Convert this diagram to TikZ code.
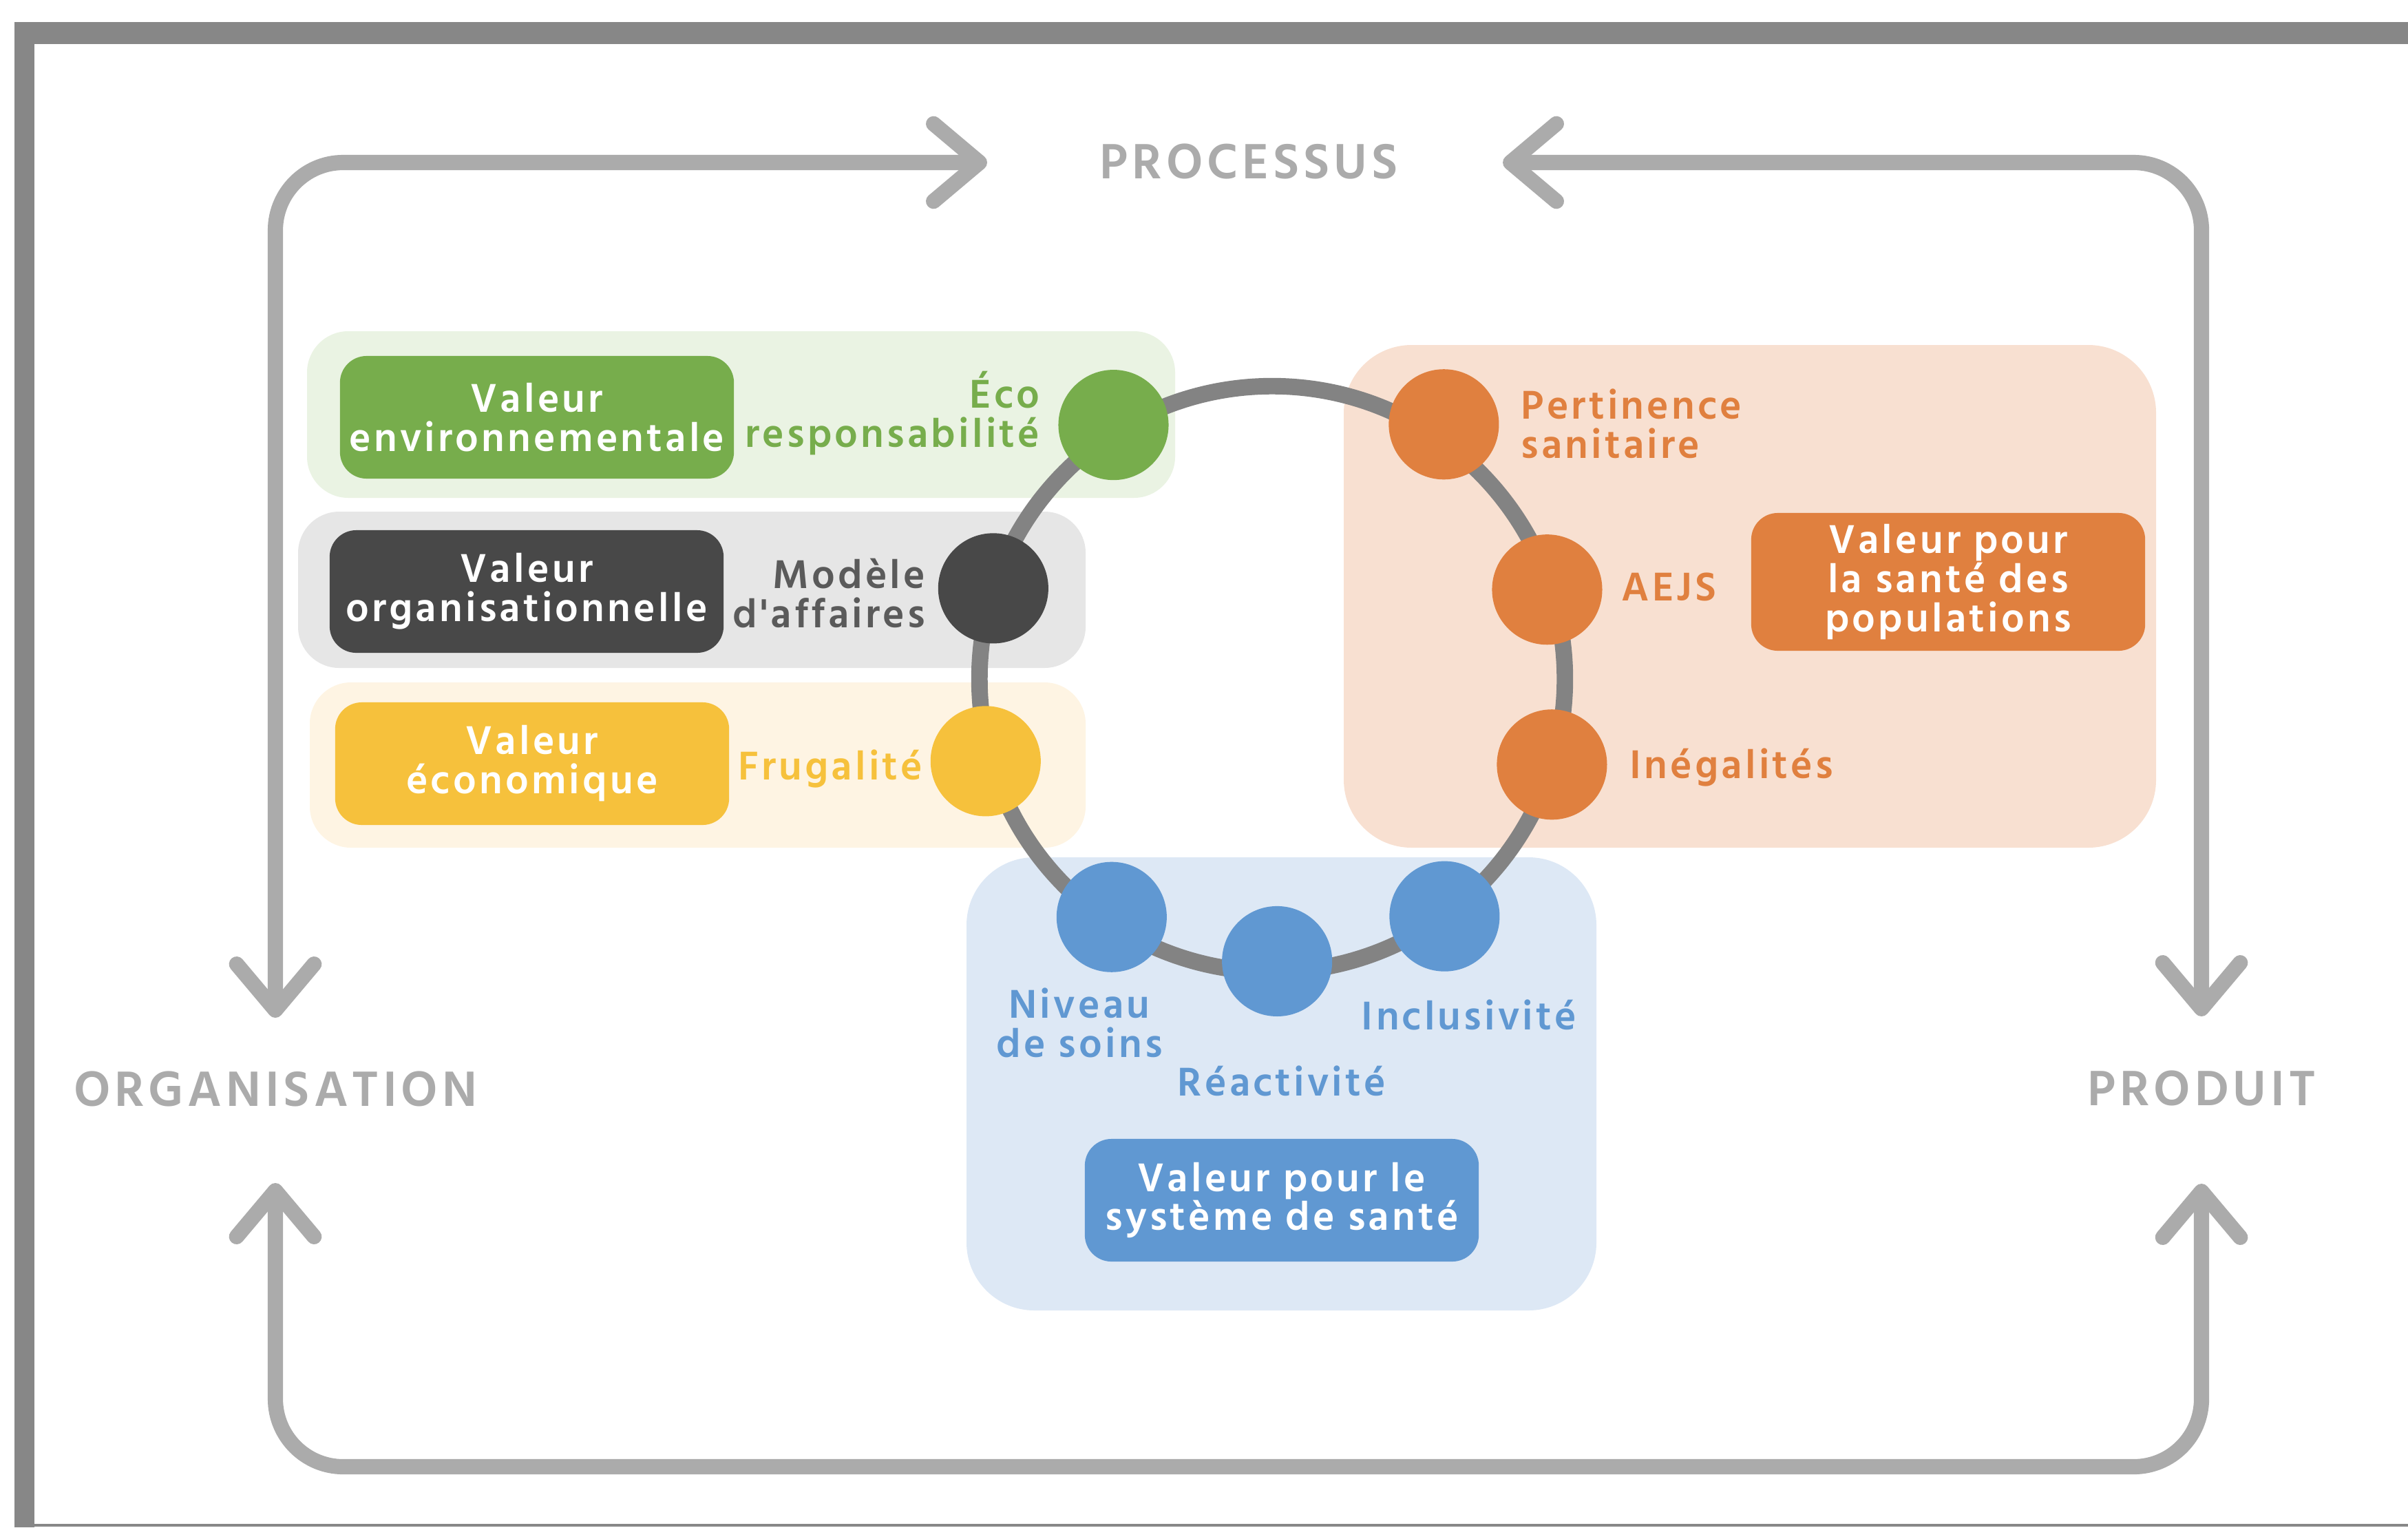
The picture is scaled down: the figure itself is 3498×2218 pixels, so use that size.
\documentclass[tikz,border=0pt]{standalone}
\usepackage{fontspec}
\setmainfont{Hind Madurai}[BoldFont={* SemiBold}, LetterSpace=7, Ligatures=TeXOff]
\usetikzlibrary{arrows.meta, positioning, calc}

\definecolor{framegrey}{HTML}{878787}
\definecolor{loopgrey}{HTML}{ABABAB}
\definecolor{ringgrey}{HTML}{838383}
\definecolor{envgreen}{HTML}{77AD4C}
\definecolor{envlight}{HTML}{EAF3E3}
\definecolor{orgdark}{HTML}{484848}
\definecolor{orglight}{HTML}{E6E6E6}
\definecolor{ecoyellow}{HTML}{F6C13C}
\definecolor{ecolight}{HTML}{FEF4E3}
\definecolor{poporange}{HTML}{E0803F}
\definecolor{poplight}{HTML}{F8E0D1}
\definecolor{sysblue}{HTML}{6098D2}
\definecolor{syslight}{HTML}{DDE8F5}

\tikzset{
  valuebox/.style={rounded corners=11pt, text=white, inner sep=0pt,
    font=\fontsize{17}{16.2}\selectfont\bfseries, align=center,
    minimum width=5.72cm, minimum height=1.78cm},
  critlabel/.style={inner sep=0pt, font=\fontsize{17}{16.2}\selectfont\bfseries},
  ringdot/.style={circle, minimum size=1.6cm, inner sep=0pt},
  axislabel/.style={text=loopgrey, inner sep=0pt,
    font=\fontsize{21}{21}\selectfont\bfseries\addfontfeatures{LetterSpace=8}},
  looparrow/.style={draw=loopgrey, line width=6.3pt, rounded corners=28pt,
    {Straight Barb[length=19pt, width=32pt, round]}-{Straight Barb[length=19pt, width=32pt, round]}}
}

\begin{document}
\begin{tikzpicture}[x=0.01cm, y=-0.01cm]
\useasboundingbox (0,0) rectangle (3498,2218);

% frame
\fill[framegrey] (21,32) rectangle (3498,64);
\fill[framegrey] (21,32) rectangle (50,2218);
\draw[framegrey, line width=1pt] (21,2215) -- (3498,2215);

% outer loop
\node[axislabel] (proc) at (1814,234) {PROCESSUS};
\node[axislabel] (orga) at (400,1581) {ORGANISATION};
\node[axislabel] (prod) at (3198,1580) {PRODUIT};
\coordinate (procW) at (1434,236);
\coordinate (procE) at (2183,236);
\coordinate (orgN) at (400,1478);
\coordinate (orgS) at (400,1718);
\coordinate (prodN) at (3198,1476);
\coordinate (prodS) at (3198,1719);
\coordinate (loopbase) at (1800,2130);
\draw[looparrow] (orgN) |- (procW);
\draw[looparrow] (procE) -| (prodN);
\draw[looparrow] (orgS) |- (loopbase) -| (prodS);

% background panels
\fill[envlight, rounded corners=17pt] (446,481) rectangle (1707,723);
\fill[orglight, rounded corners=17pt] (433,743) rectangle (1577,970);
\fill[ecolight, rounded corners=17pt] (450,991) rectangle (1577,1231);
\fill[poplight, rounded corners=28pt] (1952,501) rectangle (3132,1231);
\fill[syslight, rounded corners=28pt] (1404,1245) rectangle (2319,1903);

% ring and criteria
\coordinate (ctr) at (1848,986);
\draw[ringgrey, line width=6.8pt] (ctr) circle[radius=4.25cm];
\foreach \ang/\rad/\nm/\col in {122/435/eco/envgreen, 162/426/mod/orgdark, 196/433/fru/ecoyellow,
    236/417/niv/sysblue, 271/410/rea/sysblue, 306/426/inc/sysblue,
    343/425/ine/poporange, 18/420/aej/poporange, 56/446/per/poporange} {
  \node[ringdot, fill=\col] (\nm) at ($(ctr)+(-\ang:\rad)$) {};
}

% value boxes
\node[valuebox, fill=envgreen] (valenv) at (780,606) {Valeur\\environnementale};
\node[valuebox, fill=orgdark] (valorg) at (765,859) {Valeur\\organisationnelle};
\node[valuebox, fill=ecoyellow] (valeco) at (773,1109) {Valeur\\économique};
\node[valuebox, fill=poporange, minimum height=2cm] (valpop) at (2830,845) {Valeur pour\\la santé des\\populations};
\node[valuebox, fill=sysblue] (valsys) at (1862,1743) {Valeur pour le\\système de santé};

% criteria labels
\node[critlabel, text=envgreen, anchor=east, align=right] (lbleco) at (1511,600) {Éco\\responsabilité};
\node[critlabel, text=orgdark!90, anchor=east, align=right] (lblmod) at (1345,862) {Modèle\\d'affaires};
\node[critlabel, text=ecoyellow, anchor=east] (lblfru) at (1341,1116) {Frugalité};
\node[critlabel, text=poporange, anchor=west, align=left] (lblper) at (2209,615) {Pertinence\\sanitaire};
\node[critlabel, text=poporange, anchor=west] (lblaej) at (2355,852) {AEJS};
\node[critlabel, text=poporange, anchor=west] (lbline) at (2367,1114) {Inégalités};
\node[critlabel, text=sysblue, align=center] (lblniv) at (1568,1485) {Niveau\\de soins};
\node[critlabel, text=sysblue] (lblinc) at (2134,1474) {Inclusivité};
\node[critlabel, text=sysblue] (lblrea) at (1862,1570) {Réactivité};
\end{tikzpicture}
\end{document}
